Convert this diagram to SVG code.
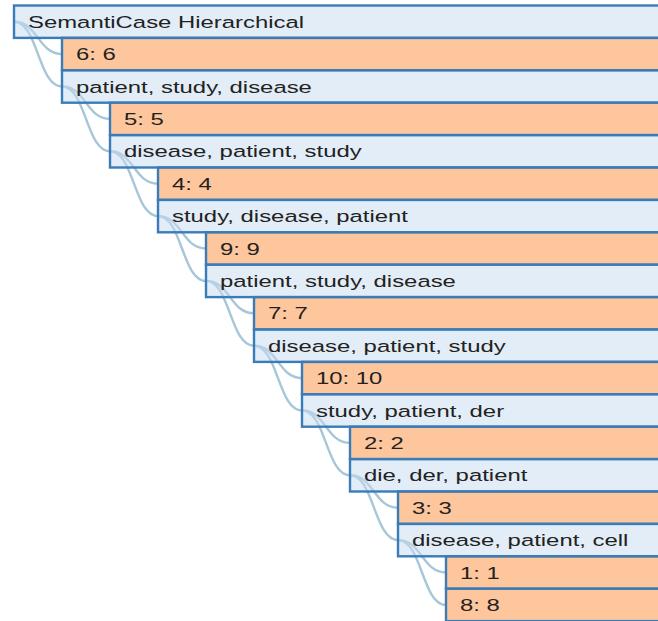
<svg xmlns="http://www.w3.org/2000/svg" width="658" height="621" viewBox="0 0 658 621">
<style>
.link{fill:none;stroke:#a6c6da;stroke-width:2.4}
.bar{stroke:#3a7cb8;stroke-width:2.4;fill-opacity:0.5}
.leaf{fill:#fd8d3c}
.inner{fill:#c6dbef}
text{font-family:"Liberation Sans",Arial,sans-serif;font-size:16.6px;fill:#222}
</style>
<rect width="658" height="621" fill="#fff"/>
<g id="links">
<path class="link" d="M14,21.7 C38,21.7 38,54.1 62,54.1"/>
<path class="link" d="M14,21.7 C38,21.7 38,86.5 62,86.5"/>
<path class="link" d="M62,86.5 C86,86.5 86,118.9 110,118.9"/>
<path class="link" d="M62,86.5 C86,86.5 86,151.3 110,151.3"/>
<path class="link" d="M110,151.3 C134,151.3 134,183.7 158,183.7"/>
<path class="link" d="M110,151.3 C134,151.3 134,216.1 158,216.1"/>
<path class="link" d="M158,216.1 C182,216.1 182,248.5 206,248.5"/>
<path class="link" d="M158,216.1 C182,216.1 182,280.9 206,280.9"/>
<path class="link" d="M206,280.9 C230,280.9 230,313.3 254,313.3"/>
<path class="link" d="M206,280.9 C230,280.9 230,345.7 254,345.7"/>
<path class="link" d="M254,345.7 C278,345.7 278,378.1 302,378.1"/>
<path class="link" d="M254,345.7 C278,345.7 278,410.5 302,410.5"/>
<path class="link" d="M302,410.5 C326,410.5 326,442.9 350,442.9"/>
<path class="link" d="M302,410.5 C326,410.5 326,475.3 350,475.3"/>
<path class="link" d="M350,475.3 C374,475.3 374,507.7 398,507.7"/>
<path class="link" d="M350,475.3 C374,475.3 374,540.1 398,540.1"/>
<path class="link" d="M398,540.1 C422,540.1 422,572.5 446,572.5"/>
<path class="link" d="M398,540.1 C422,540.1 422,604.9 446,604.9"/>
</g>
<g id="n0"><rect class="bar inner" x="14" y="5.5" width="700" height="32.4"/><text transform="translate(28,27.8) scale(1.44,1)">SemantiCase Hierarchical</text></g>
<g id="n6"><rect class="bar leaf" x="62" y="37.9" width="700" height="32.4"/><text transform="translate(76,60.2) scale(1.44,1)">6: 6</text></g>
<g id="c1"><rect class="bar inner" x="62" y="70.3" width="700" height="32.4"/><text transform="translate(76,92.6) scale(1.44,1)">patient, study, disease</text></g>
<g id="n5"><rect class="bar leaf" x="110" y="102.7" width="700" height="32.4"/><text transform="translate(124,125) scale(1.44,1)">5: 5</text></g>
<g id="c2"><rect class="bar inner" x="110" y="135.1" width="700" height="32.4"/><text transform="translate(124,157.4) scale(1.44,1)">disease, patient, study</text></g>
<g id="n4"><rect class="bar leaf" x="158" y="167.5" width="700" height="32.4"/><text transform="translate(172,189.8) scale(1.44,1)">4: 4</text></g>
<g id="c3"><rect class="bar inner" x="158" y="199.9" width="700" height="32.4"/><text transform="translate(172,222.2) scale(1.44,1)">study, disease, patient</text></g>
<g id="n9"><rect class="bar leaf" x="206" y="232.3" width="700" height="32.4"/><text transform="translate(220,254.6) scale(1.44,1)">9: 9</text></g>
<g id="c4"><rect class="bar inner" x="206" y="264.7" width="700" height="32.4"/><text transform="translate(220,287) scale(1.44,1)">patient, study, disease</text></g>
<g id="n7"><rect class="bar leaf" x="254" y="297.1" width="700" height="32.4"/><text transform="translate(268,319.4) scale(1.44,1)">7: 7</text></g>
<g id="c5"><rect class="bar inner" x="254" y="329.5" width="700" height="32.4"/><text transform="translate(268,351.8) scale(1.44,1)">disease, patient, study</text></g>
<g id="n10"><rect class="bar leaf" x="302" y="361.9" width="700" height="32.4"/><text transform="translate(316,384.2) scale(1.44,1)">10: 10</text></g>
<g id="c6"><rect class="bar inner" x="302" y="394.3" width="700" height="32.4"/><text transform="translate(316,416.6) scale(1.44,1)">study, patient, der</text></g>
<g id="n2"><rect class="bar leaf" x="350" y="426.7" width="700" height="32.4"/><text transform="translate(364,449) scale(1.44,1)">2: 2</text></g>
<g id="c7"><rect class="bar inner" x="350" y="459.1" width="700" height="32.4"/><text transform="translate(364,481.4) scale(1.44,1)">die, der, patient</text></g>
<g id="n3"><rect class="bar leaf" x="398" y="491.5" width="700" height="32.4"/><text transform="translate(412,513.8) scale(1.44,1)">3: 3</text></g>
<g id="c8"><rect class="bar inner" x="398" y="523.9" width="700" height="32.4"/><text transform="translate(412,546.2) scale(1.44,1)">disease, patient, cell</text></g>
<g id="n1"><rect class="bar leaf" x="446" y="556.3" width="700" height="32.4"/><text transform="translate(460,578.6) scale(1.44,1)">1: 1</text></g>
<g id="n8"><rect class="bar leaf" x="446" y="588.7" width="700" height="32.4"/><text transform="translate(460,611) scale(1.44,1)">8: 8</text></g>
</svg>
